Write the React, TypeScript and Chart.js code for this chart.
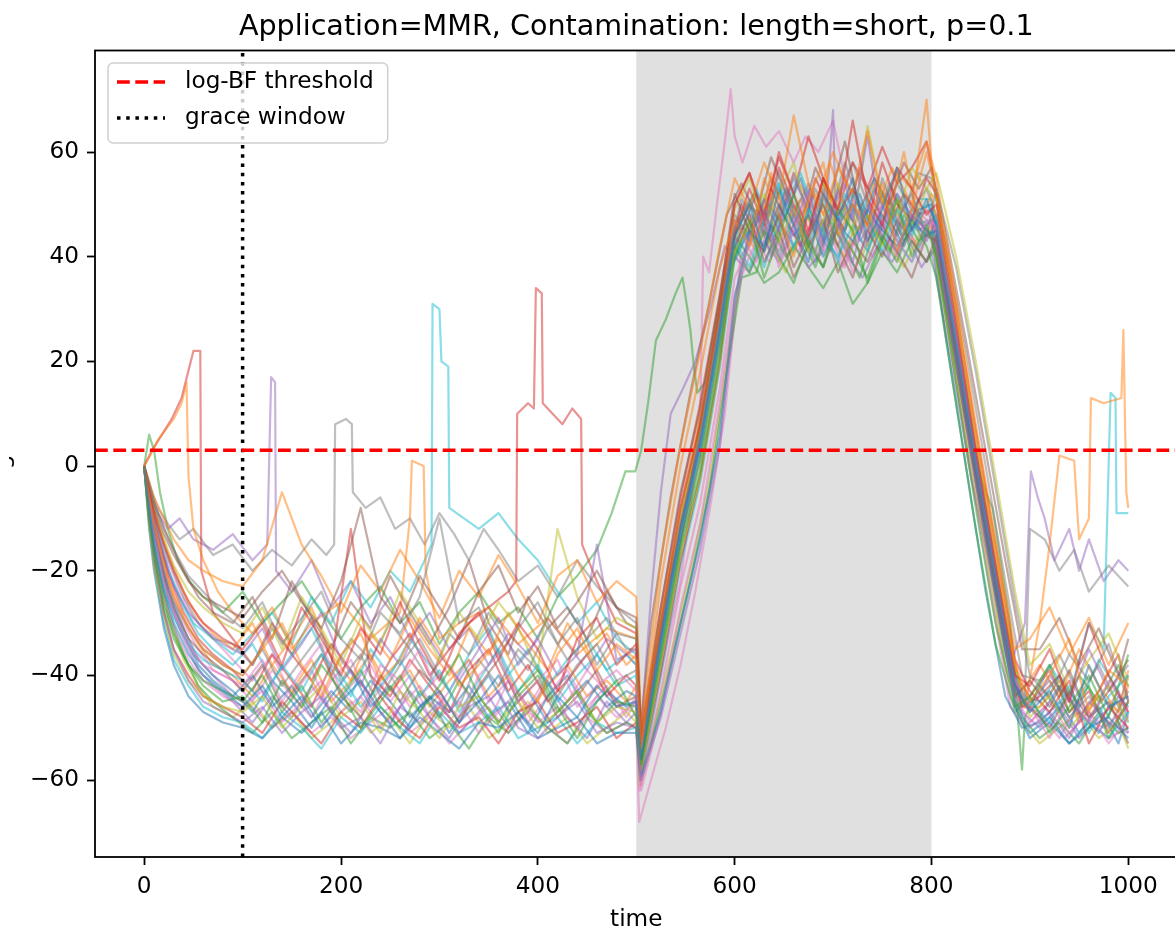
import React, { useEffect, useRef } from "react";
import { Chart, registerables } from "chart.js";

Chart.register(...registerables);

// ---------- text ----------
const TITLE = "Application=MMR, Contamination: length=short, p=0.1";
const X_LABEL = "time";
const Y_LABEL = "log-BF";
const LEGEND_THRESHOLD = "log-BF threshold";
const LEGEND_GRACE = "grace window";

// ---------- axes ----------
const X_TICKS = [0, 200, 400, 600, 800, 1000];
const Y_TICKS = [-60, -40, -20, 0, 20, 40, 60];
const X_MIN = -50;
const X_MAX = 1050;
const Y_MIN = -74.7;
const Y_MAX = 79.4;

// ---------- reference marks ----------
const THRESHOLD = 3;
const GRACE = 100;
const SPAN_START = 500;
const SPAN_END = 800;

// ---------- time grid 1 ----------
const TIME = [
  0, 5, 10, 20, 30, 45, 60, 80,
  100, 120, 140, 160, 180, 200, 220, 240, 260, 280, 300, 320, 340, 360, 380, 400, 420, 440, 460, 480,
  500, 505,
  525, 545, 565, 585,
  600, 615, 630, 645, 660, 675, 690, 705, 720, 735, 750, 765, 780, 795,
  805, 825, 845, 865, 885,
  900, 920, 940, 960, 980, 1000,
];

const RUN_A = [0, -8, -15, -24, -30, -36, -40, -43,
  -46, -42, -48, -44, -50, -45, -41, -47, -52, -46, -43, -49, -45, -40, -47, -51, -44, -48, -42, -46,
  -45, -56, -33, -12, 4, 26,
  44, 50, 41, 53, 46, 39, 52, 47, 55, 43, 49, 57, 45, 51,
  46, 24, 1, -21, -42, -47, -43, -50, -38, -46, -44];
const RUN_B = [0, -6, -11, -19, -25, -31, -35, -38,
  -40, -35, -30, -38, -44, -36, -32, -41, -37, -29, -35, -42, -38, -33, -40, -45, -36, -31, -39, -34,
  -37, -54, -22, 0, 18, 38,
  47, 42, 55, 48, 40, 51, 58, 44, 50, 46, 54, 41, 49, 60,
  52, 30, 6, -16, -38, -45, -40, -33, -47, -39, -42];
const RUN_C = [0, -10, -17, -27, -33, -38, -42, -45,
  -44, -49, -41, -46, -38, -43, -50, -45, -40, -47, -42, -36, -44, -49, -43, -39, -46, -52, -45, -41,
  -48, -57, -37, -16, -1, 21,
  40, 47, 36, 44, 52, 42, 38, 49, 45, 35, 43, 51, 40, 46,
  40, 16, -8, -30, -46, -44, -51, -46, -40, -48, -36];
const RUN_D = [0, -5, -9, -15, -20, -26, -30, -33,
  -35, -30, -38, -27, -33, -40, -31, -36, -26, -34, -41, -32, -28, -37, -30, -35, -43, -33, -29, -38,
  -34, -53, -30, -8, 8, 30,
  50, 56, 47, 60, 52, 45, 55, 49, 66, 51, 46, 57, 53, 48,
  50, 27, 3, -19, -40, -42, -35, -45, -30, -40, -47];
const RUN_E = [0, -9, -17, -28, -35, -41, -45, -47,
  -49, -46, -51, -47, -44, -50, -48, -53, -46, -49, -45, -51, -47, -43, -50, -52, -48, -45, -51, -49,
  -50, -60, -48, -32, -16, 4,
  30, 44, 49, 40, 46, 53, 43, 47, 39, 50, 44, 41, 48, 45,
  42, 20, -3, -25, -45, -50, -47, -52, -45, -49, -51];
const RUN_F = [0, -4, -8, -13, -17, -22, -25, -27,
  -29, -24, -20, -26, -31, -22, -8, -25, -30, -21, -27, -33, -24, -19, -28, -23, -31, -26, -20, -27,
  -29, -52, -27, -5, 11, 32,
  52, 45, 41, 48, 38, 44, 50, 42, 36, 45, 40, 47, 43, 39,
  44, 22, -1, -23, -44, -41, -46, -39, -48, -43, -37];
const RUN_G = [0, -7, -13, -22, -28, -34, -38, -40,
  -42, -37, -45, -39, -34, -43, -47, -38, -41, -35, -44, -48, -40, -36, -45, -41, -37, -46, -42, -39,
  -43, -61, -43, -23, -7, 15,
  36, 42, 48, 38, 45, 52, 41, 46, 37, 44, 50, 43, 39, 47,
  46, 25, 2, -20, -41, -46, -52, -44, -49, -41, -47];
const RUN_H = [0, -3, -7, -12, -16, -21, -24, -28,
  -31, -26, -34, -29, -24, -33, -37, -28, -32, -25, -10, -30, -27, -36, -31, -26, -34, -29, -38, -32,
  -33, -55, -32, -11, 5, 27,
  45, 51, 44, 56, 48, 43, 53, 46, 50, 42, 55, 47, 52, 44,
  53, 38, 18, -4, -26, -40, -44, -36, -41, -34, -45];
const RUN_I = [0, -11, -19, -29, -36, -41, -44, -46,
  -47, -44, -50, -46, -42, -48, -45, -51, -43, -47, -52, -46, -44, -49, -45, -50, -47, -43, -49, -46,
  -47, -58, -38, -17, -2, 20,
  41, 46, 52, 43, 49, 41, 47, 54, 44, 48, 42, 51, 46, 53,
  51, 29, 5, -17, -39, -48, -44, -50, -46, -42, -49];
const RUN_J = [0, -8, -14, -23, -29, -34, -37, -39,
  -41, -45, -38, -43, -36, -40, -46, -42, -37, -44, -39, -47, -41, -35, -43, -38, -45, -40, -36, -42,
  -40, -55, -34, -13, 3, 25,
  43, 38, 47, 54, 41, 49, 45, 39, 52, 47, 41, 49, 44, 50,
  47, 23, 0, -22, -43, -45, -49, -42, -51, -44, -40];
const RUN_K = [0, -12, -20, -31, -38, -44, -47, -49,
  -50, -52, -48, -51, -47, -53, -49, -50, -52, -48, -51, -54, -49, -50, -47, -52, -50, -48, -53, -51,
  -51, -59, -47, -30, -14, 6,
  32, 45, 42, 50, 44, 48, 40, 46, 43, 49, 45, 42, 47, 44,
  45, 21, -2, -24, -46, -52, -49, -53, -50, -48, -52];
const RUN_L = [0, -3, -6, -10, -14, -18, -20, -22,
  -23, -18, -5, -15, -21, -28, -19, -24, -16, -22, -29, -20, -25, -17, -23, -30, -21, -18, -26, -22,
  -25, -50, -18, 4, 22, 42,
  55, 49, 58, 51, 67, 54, 48, 57, 52, 64, 50, 56, 53, 62,
  55, 32, 8, -14, -35, -33, -27, -36, -29, -38, -30];
const RUN_M = [0, -9, -16, -26, -32, -38, -41, -43,
  -45, -40, -47, -42, -49, -44, -39, -46, -50, -43, -48, -41, -46, -51, -44, -40, -47, -43, -49, -45,
  -46, -57, -36, -15, 1, 23,
  42, 37, 45, 40, 35, 43, 38, 46, 41, 36, 44, 39, 47, 42,
  36, 12, -12, -34, -47, -44, -38, -47, -42, -52, -45];
const RUN_N = [0, -10, -18, -28, -35, -40, -44, -46,
  -48, -51, -45, -49, -53, -47, -50, -44, -49, -52, -46, -50, -48, -53, -47, -45, -51, -49, -46, -52,
  -49, -58, -39, -18, -2, 20,
  44, 53, 46, 57, 50, 44, 55, 48, 53, 46, 58, 50, 47, 55,
  52, 30, 7, -15, -37, -43, -47, -41, -53, -46, -50];
const RUN_O = [0, -5, -10, -17, -23, -28, -31, -34,
  -36, -31, -39, -34, -28, -37, -42, -33, -38, -30, -36, -41, -35, -29, -38, -33, -40, -36, -15, -37,
  -35, -54, -33, -12, 4, 26,
  47, 43, 51, 45, 56, 48, 42, 53, 47, 63, 45, 52, 48, 43,
  47, 25, 1, -21, -42, -47, -40, -45, -35, -43, -38];
const RUN_P = [0, -7, -13, -21, -27, -33, -36, -39,
  -43, -38, -46, -41, -36, -44, -48, -40, -45, -39, -43, -49, -42, -37, -45, -41, -48, -44, -39, -46,
  -44, -56, -35, -14, 2, 24,
  42, 48, 39, 45, 36, 42, 47, 37, 43, 39, 46, 41, 36, 44,
  43, 21, -2, -23, -43, -46, -50, -43, -48, -45, -53];
const RUN_Q = [0, -8, -15, -25, -31, -37, -41, -44,
  -46, -43, -49, -45, -41, -47, -44, -50, -46, -42, -48, -45, -51, -47, -43, -49, -46, -50, -44, -48,
  -45, -62, -47, -27, -11, 12,
  33, 40, 46, 42, 49, 44, 38, 46, 51, 43, 47, 40, 45, 49,
  45, 23, 0, -22, -44, -49, -45, -51, -47, -53, -48];
const RUN_R = [0, -6, -12, -20, -26, -31, -35, -38,
  -40, -35, -42, -37, -32, -41, -36, -44, -38, -33, -40, -46, -37, -42, -35, -39, -44, -38, -34, -41,
  -39, -55, -34, -13, 3, 25,
  44, 50, 45, 41, 48, 54, 46, 42, 50, 45, 52, 44, 49, 46,
  48, 26, 3, -19, -41, -45, -41, -48, -44, -50, -43];
const RUN_S = [0, -4, -8, -14, -19, -24, -27, -30,
  -32, -27, -35, -25, -31, -38, -29, -34, -24, -30, -37, -28, -33, -26, -31, -39, -12, -25, -33, -29,
  -31, -53, -30, -9, 7, 29,
  49, 55, 46, 52, 58, 47, 54, 50, 45, 65, 51, 48, 57, 53,
  56, 40, 20, -2, -24, -38, -34, -43, -37, -32, -41];
const RUN_T = [0, -11, -19, -30, -37, -42, -46, -48,
  -49, -52, -47, -50, -54, -48, -51, -46, -50, -53, -47, -51, -49, -46, -52, -50, -48, -53, -49, -51,
  -50, -59, -40, -19, -3, 19,
  40, 45, 38, 47, 42, 49, 44, 40, 46, 41, 48, 43, 39, 45,
  44, 22, -1, -23, -45, -51, -48, -53, -49, -52, -47];

// ---------- time grid 2 (interleaved sampling) ----------
const TIME2 = [
  0, 4, 12, 25, 40, 55, 70,
  90, 110, 130, 150, 170, 190, 210, 230, 250, 270, 290, 310, 330, 350, 370, 390, 410, 430, 450, 470, 490,
  500, 504,
  515, 535, 555, 575, 592,
  607, 622, 637, 652, 667, 682, 697, 712, 727, 742, 757, 772, 787,
  800, 815, 835, 855, 875, 892,
  910, 930, 950, 970, 990, 1000,
];

const RUN_U = [0, -6, -14, -24, -31, -37, -40,
  -43, -47, -41, -45, -50, -44, -39, -46, -42, -48, -44, -51, -45, -40, -47, -43, -49, -45, -41, -46, -43,
  -44, -57, -44, -22, -4, 17, 37,
  45, 52, 43, 48, 55, 46, 41, 50, 44, 53, 47, 42, 49,
  50, 34, 11, -10, -32, -45, -48, -42, -47, -51, -44, -46];
const RUN_V = [0, -4, -10, -17, -24, -29, -32,
  -35, -30, -38, -33, -27, -36, -41, -32, -37, -29, -35, -40, -31, -36, -28, -34, -39, -30, -36, -32, -38,
  -36, -53, -41, -19, -1, 19, 39,
  48, 42, 56, 47, 51, 44, 58, 49, 45, 54, 48, 60, 46,
  52, 36, 13, -8, -30, -43, -38, -44, -35, -42, -47, -39];
const RUN_W = [0, -8, -17, -28, -36, -42, -45,
  -48, -51, -47, -52, -49, -46, -53, -48, -50, -47, -52, -49, -54, -48, -51, -46, -50, -53, -47, -51, -49,
  -50, -60, -53, -38, -22, -4, 18,
  36, 37, 46, 40, 44, 38, 47, 42, 36, 45, 41, 48, 43,
  45, 30, 8, -14, -36, -48, -52, -49, -53, -47, -51, -50];
const RUN_X = [0, -5, -12, -21, -28, -33, -36,
  -39, -43, -36, -41, -46, -38, -12, -40, -44, -37, -42, -47, -39, -35, -43, -38, -45, -41, -36, -44, -40,
  -42, -56, -43, -21, -3, 18, 38,
  50, 44, 53, 47, 42, 55, 49, 45, 57, 50, 46, 52, 48,
  49, 33, 10, -12, -33, -46, -44, -40, -48, -43, -36, -45];
const RUN_Y = [0, -7, -15, -26, -33, -39, -42,
  -45, -49, -44, -48, -42, -47, -51, -45, -49, -43, -48, -52, -46, -44, -50, -47, -41, -48, -52, -45, -49,
  -47, -59, -45, -23, -5, 16, 36,
  43, 49, 40, 51, 45, 39, 48, 54, 43, 47, 40, 50, 45,
  47, 31, 9, -13, -35, -47, -50, -46, -52, -48, -45, -51];
const RUN_Z = [0, -3, -8, -14, -20, -25, -28,
  -30, -25, -33, -22, -29, -35, -26, -31, -21, -28, -34, -27, -18, -30, -36, -25, -31, -27, -33, -24, -30,
  -31, -51, -30, -6, 14, 32, 48,
  54, 48, 59, 52, 46, 57, 51, 62, 49, 55, 50, 58, 53,
  57, 44, 24, 3, -18, -35, -35, -29, -38, -31, -40, -33];
const RUN_AA = [0, -6, -13, -23, -30, -35, -39,
  -41, -45, -39, -44, -48, -41, -37, -45, -40, -46, -42, -38, -44, -49, -41, -46, -40, -45, -39, -43, -47,
  -44, -58, -44, -22, -4, 17, 37,
  44, 39, 47, 52, 42, 48, 44, 38, 46, 51, 43, 47, 41,
  47, 31, 8, -14, -35, -46, -47, -52, -45, -49, -43, -48];
const RUN_AB = [0, -4, -10, -18, -25, -30, -33,
  -34, -38, -31, -36, -29, -40, -33, -37, -30, -35, -41, -32, -36, -28, -34, -39, -31, -37, -33, -29, -35,
  -35, -54, -42, -20, -2, 19, 39,
  51, 46, 55, 49, 44, 53, 47, 58, 50, 45, 54, 49, 56,
  55, 42, 22, 0, -22, -40, -41, -36, -44, -38, -46, -40];
const RUN_AC = [0, -9, -18, -29, -37, -42, -46,
  -48, -45, -50, -47, -52, -49, -45, -51, -48, -53, -47, -50, -46, -52, -49, -45, -51, -48, -53, -50, -47,
  -49, -61, -52, -36, -20, -2, 20,
  38, 46, 42, 37, 45, 41, 48, 43, 39, 46, 42, 38, 44,
  44, 28, 6, -16, -38, -49, -53, -50, -47, -52, -49, -54];
const RUN_AD = [0, -5, -11, -20, -27, -32, -35,
  -38, -34, -41, -36, -31, -39, -44, -35, -40, -33, -38, -43, -36, -31, -40, -35, -42, -37, -33, -39, -36,
  -38, -55, -43, -21, -3, 18, 38,
  47, 53, 45, 50, 56, 48, 43, 52, 47, 55, 49, 44, 51,
  51, 35, 12, -9, -31, -44, -45, -40, -46, -37, -43, -49];
const RUN_AE = [0, -7, -15, -25, -32, -38, -41,
  -44, -40, -46, -42, -48, -43, -47, -41, -45, -50, -44, -47, -42, -48, -45, -51, -44, -40, -47, -43, -46,
  -45, -58, -45, -23, -5, 16, 36,
  42, 48, 44, 53, 46, 41, 50, 45, 52, 44, 49, 43, 47,
  44, 24, 0, -24, -44, -50, -49, -45, -51, -46, -53, -47];
const RUN_AF = [0, -6, -12, -22, -29, -34, -38,
  -40, -44, -38, -43, -37, -45, -41, -36, -43, -39, -46, -41, -37, -44, -40, -47, -42, -38, -44, -41, -45,
  -42, -56, -43, -21, -3, 18, 37,
  46, 41, 50, 44, 48, 52, 45, 40, 49, 43, 51, 46, 42,
  46, 30, 8, -13, -34, -46, -46, -41, -49, -44, -47, -42];

const GRID_RUNS: { time: number[]; values: number[] }[] = [
  ...[RUN_A, RUN_B, RUN_C, RUN_D, RUN_E, RUN_F, RUN_G, RUN_H, RUN_I, RUN_J,
    RUN_K, RUN_L, RUN_M, RUN_N, RUN_O, RUN_P, RUN_Q, RUN_R, RUN_S, RUN_T].map((values) => ({ time: TIME, values })),
  ...[RUN_U, RUN_V, RUN_W, RUN_X, RUN_Y, RUN_Z, RUN_AA, RUN_AB, RUN_AC, RUN_AD, RUN_AE, RUN_AF]
    .map((values) => ({ time: TIME2, values })),
];

// ---------- individually sampled runs: [time, value] ----------
const RUN_ORANGE_EARLY: [number, number][] = [[0,0],[6,2],[14,5],[22,7],[30,9],[38,12],[43,16],[45,-2],[50,-12],[60,-18],[75,-24],[90,-28],[110,-32],[130,-27],[150,-35],[170,-30],[200,-26],[230,-33],[260,-28],[270,-10],[272,1],[284,0],[286,-20],[300,-33],[320,-30],[350,-27],[380,-34],[410,-29],[440,-36],[470,-31],[500,-33],[505,-52],[525,-28],[545,-8],[565,10],[585,30],[600,46],[620,52],[640,45],[660,56],[680,49],[700,60],[720,51],[740,47],[760,57],[780,50],[795,70],[800,58],[820,30],[840,7],[860,-14],[880,-34],[895,-46],[910,-30],[920,-15],[930,2],[945,1],[950,-14],[960,-10],[962,13],[975,12],[993,13],[995,26],[998,-5],[1000,-8]];
const RUN_RED_SPIKE: [number, number][] = [[0,0],[8,3],[18,6],[28,9],[38,13],[46,19],[50,22],[57,22],[58,-20],[70,-28],[90,-33],[110,-38],[130,-30],[150,-36],[170,-41],[190,-34],[210,-39],[230,-44],[250,-37],[270,-32],[290,-40],[310,-35],[330,-30],[350,-27],[370,-24],[378,-22],[379,10],[390,12],[396,11],[398,34],[404,33],[405,12],[415,10],[425,8],[435,11],[444,9],[445,-15],[460,-22],[480,-30],[500,-32],[505,-50],[525,-27],[545,-6],[565,12],[585,33],[600,50],[615,56],[630,48],[645,59],[660,52],[675,63],[690,55],[705,49],[720,58],[735,53],[750,61],[765,54],[780,57],[795,62],[805,52],[825,28],[845,4],[865,-18],[885,-40],[900,-44],[920,-39],[940,-47],[960,-43],[980,-51],[1000,-45]];
const RUN_CYAN_SPIKE: [number, number][] = [[0,0],[6,-8],[14,-14],[24,-20],[36,-25],[50,-30],[70,-33],[90,-36],[110,-32],[130,-28],[150,-34],[170,-25],[190,-30],[210,-22],[230,-27],[250,-20],[270,-24],[285,-18],[292,-15],[293,31],[300,30],[302,20],[309,19],[310,-8],[325,-10],[340,-12],[360,-9],[380,-14],[400,-18],[420,-24],[440,-30],[460,-26],[480,-33],[500,-36],[505,-53],[525,-33],[545,-13],[565,5],[585,27],[600,44],[615,50],[630,46],[645,54],[660,47],[675,42],[690,51],[705,45],[720,53],[735,48],[750,43],[765,52],[780,46],[800,47],[820,26],[840,3],[860,-19],[880,-40],[900,-46],[920,-38],[940,-44],[960,-30],[975,-35],[982,14],[987,13],[988,-9],[1000,-9]];
const RUN_PURPLE_SPIKE: [number, number][] = [[0,0],[6,-5],[14,-9],[24,-12],[36,-10],[50,-14],[70,-16],[90,-13],[110,-18],[125,-15],[129,17],[133,16],[134,-20],[150,-24],[170,-18],[190,-27],[210,-22],[230,-30],[250,-25],[270,-33],[290,-28],[310,-35],[330,-31],[350,-38],[370,-32],[390,-36],[410,-29],[430,-34],[450,-39],[470,-33],[490,-36],[500,-38],[505,-50],[515,-25],[525,-5],[535,10],[548,15],[560,20],[575,30],[590,42],[600,40],[615,37],[630,43],[645,39],[660,45],[675,38],[690,41],[700,68],[703,45],[715,40],[730,36],[745,42],[760,39],[775,44],[790,38],[800,41],[820,20],[840,-2],[860,-20],[880,-38],[895,-30],[901,-1],[908,-6],[915,-10],[925,-18],[940,-12],[950,-20],[960,-14],[975,-22],[990,-18],[1000,-20]];
const RUN_GRAY_PLATEAU: [number, number][] = [[0,0],[6,-4],[14,-8],[24,-11],[36,-14],[50,-12],[70,-17],[90,-15],[110,-20],[130,-16],[150,-19],[170,-14],[185,-17],[193,-15],[194,8],[205,9],[211,8],[212,-5],[225,-8],[240,-6],[255,-12],[270,-10],[285,-15],[300,-9],[315,-13],[330,-18],[345,-12],[360,-16],[380,-22],[400,-19],[420,-25],[440,-18],[460,-23],[480,-27],[500,-30],[505,-51],[525,-30],[545,-10],[565,8],[585,30],[600,48],[615,44],[630,51],[645,47],[660,55],[675,49],[690,45],[705,52],[720,58],[735,50],[750,46],[765,54],[780,49],[795,53],[805,48],[825,25],[845,2],[865,-20],[885,-42],[895,-44],[900,-12],[915,-14],[930,-20],[945,-16],[960,-24],[980,-19],[1000,-23]];
const RUN_GREEN_EARLY: [number, number][] = [[0,0],[5,6],[10,3],[16,-5],[24,-12],[34,-18],[46,-22],[60,-25],[80,-28],[100,-24],[120,-30],[140,-26],[160,-22],[180,-28],[200,-33],[220,-27],[240,-23],[260,-30],[280,-26],[300,-34],[320,-28],[340,-24],[360,-30],[380,-27],[400,-33],[420,-25],[440,-21],[460,-16],[475,-9],[489,-1],[499,-1],[505,3],[512,12],[520,24],[530,28],[540,33],[547,36],[552,30],[555,26],[558,20],[562,14],[570,16],[580,27],[590,38],[600,44],[615,40],[630,35],[645,37],[660,42],[675,38],[690,34],[705,39],[720,31],[735,35],[750,41],[765,37],[780,43],[795,39],[805,42],[820,24],[835,9],[845,1],[855,-5],[862,-8],[870,-18],[880,-30],[892,-58],[895,-48],[910,-42],[930,-47],[950,-40],[970,-45],[990,-38],[1000,-42]];
const RUN_PINK_HIGH: [number, number][] = [[0,0],[6,-6],[14,-12],[24,-18],[36,-24],[50,-29],[70,-33],[90,-37],[110,-41],[130,-36],[150,-44],[170,-39],[190,-47],[210,-42],[230,-38],[250,-45],[270,-40],[290,-48],[310,-43],[330,-37],[350,-45],[370,-41],[390,-49],[410,-44],[430,-39],[450,-46],[470,-42],[490,-48],[500,-45],[503,-62],[515,-50],[530,-35],[545,-22],[555,-8],[565,10],[568,40],[574,37],[582,50],[590,62],[596,72],[600,63],[608,58],[620,65],[632,61],[645,64],[660,58],[672,63],[685,60],[700,66],[712,55],[725,50],[740,46],[755,52],[770,44],[785,49],[800,46],[820,24],[840,1],[860,-22],[880,-44],[895,-50],[915,-46],[935,-52],[955,-48],[975,-50],[1000,-46]];
const RUN_PINK_LATE: [number, number][] = [[0,0],[6,-9],[14,-16],[24,-25],[36,-31],[50,-36],[70,-40],[90,-44],[110,-46],[130,-50],[150,-47],[170,-51],[190,-48],[210,-52],[230,-49],[250,-46],[270,-51],[290,-48],[310,-53],[330,-49],[350,-46],[370,-51],[390,-47],[410,-50],[430,-53],[450,-48],[470,-51],[490,-49],[500,-50],[503,-68],[515,-60],[530,-50],[545,-38],[560,-24],[575,-8],[590,10],[600,28],[606,40],[620,44],[635,39],[650,45],[665,41],[680,47],[695,43],[710,38],[725,44],[740,40],[755,46],[770,42],[785,47],[800,44],[820,22],[840,-1],[860,-24],[880,-46],[900,-51],[920,-48],[940,-53],[960,-49],[980,-52],[1000,-50]];

const SAMPLED_RUNS: { points: [number, number][]; color: number }[] = [
  { points: RUN_ORANGE_EARLY, color: 1 },
  { points: RUN_RED_SPIKE, color: 3 },
  { points: RUN_CYAN_SPIKE, color: 9 },
  { points: RUN_PURPLE_SPIKE, color: 4 },
  { points: RUN_GRAY_PLATEAU, color: 7 },
  { points: RUN_GREEN_EARLY, color: 2 },
  { points: RUN_PINK_HIGH, color: 6 },
  { points: RUN_PINK_LATE, color: 6 },
];

const TAB10 = ["31,119,180", "255,127,14", "44,160,44", "214,39,40", "148,103,189",
  "140,86,75", "227,119,194", "127,127,127", "188,189,34", "23,190,207"];
const RUN_ALPHA = 0.5;

// ---------- layout (canvas px) ----------
const CANVAS_LEFT = 9;
const CANVAS_W = 1180;
const CANVAS_H = 935;
const FONT = "'DejaVu Sans'";
const TICK_SIZE = 23.2;
const TITLE_SIZE = 28.6;

function fmtTick(v: number): string {
  return v < 0 ? "\u2212" + Math.abs(v) : String(v);
}

const decorPlugin = {
  id: "decor",
  beforeDatasetsDraw(chart: any) {
    const { ctx, chartArea: a, scales } = chart;
    const x0 = scales.x.getPixelForValue(SPAN_START);
    const x1 = scales.x.getPixelForValue(SPAN_END);
    ctx.save();
    ctx.fillStyle = "#e0e0e0";
    ctx.fillRect(x0, a.top, x1 - x0, a.bottom - a.top);
    ctx.restore();
  },
  afterDraw(chart: any) {
    const { ctx, chartArea: a } = chart;
    ctx.save();
    // frame
    ctx.strokeStyle = "#000";
    ctx.lineWidth = 1.8;
    ctx.strokeRect(a.left, a.top, a.right - a.left, a.bottom - a.top);
    // title
    ctx.fillStyle = "#000";
    ctx.font = `${TITLE_SIZE}px ${FONT}`;
    ctx.textAlign = "center";
    ctx.textBaseline = "alphabetic";
    ctx.fillText(TITLE, (a.left + a.right) / 2, 35);
    // y label: only its lower edge lies inside the visible frame
    ctx.save();
    ctx.translate(0, (a.top + a.bottom) / 2);
    ctx.rotate(-Math.PI / 2);
    ctx.font = `${TICK_SIZE}px ${FONT}`;
    ctx.textAlign = "center";
    ctx.textBaseline = "alphabetic";
    ctx.fillText(Y_LABEL, 0, 0);
    ctx.restore();
    // legend
    ctx.font = `${TICK_SIZE}px ${FONT}`;
    const textX = 176;
    const w = Math.max(ctx.measureText(LEGEND_THRESHOLD).width, ctx.measureText(LEGEND_GRACE).width);
    const bx = 99, by = 63, bw = textX + w + 14 - bx, bh = 80, r = 5;
    ctx.beginPath();
    ctx.moveTo(bx + r, by);
    ctx.arcTo(bx + bw, by, bx + bw, by + bh, r);
    ctx.arcTo(bx + bw, by + bh, bx, by + bh, r);
    ctx.arcTo(bx, by + bh, bx, by, r);
    ctx.arcTo(bx, by, bx + bw, by, r);
    ctx.closePath();
    ctx.fillStyle = "rgba(255,255,255,0.8)";
    ctx.fill();
    ctx.strokeStyle = "#d0d0d0";
    ctx.lineWidth = 1.5;
    ctx.stroke();
    const rows = [
      { y: 82, label: LEGEND_THRESHOLD, color: "#ff0000", dash: [12.8, 5.5] },
      { y: 118, label: LEGEND_GRACE, color: "#000000", dash: [3.5, 5.7] },
    ];
    rows.forEach((row) => {
      ctx.beginPath();
      ctx.setLineDash(row.dash);
      ctx.strokeStyle = row.color;
      ctx.lineWidth = 3.5;
      ctx.moveTo(108, row.y);
      ctx.lineTo(156, row.y);
      ctx.stroke();
      ctx.setLineDash([]);
      ctx.fillStyle = "#000";
      ctx.textAlign = "left";
      ctx.textBaseline = "middle";
      ctx.fillText(row.label, textX, row.y);
    });
    ctx.restore();
  },
};

export default function App() {
  const ref = useRef<HTMLCanvasElement | null>(null);

  useEffect(() => {
    if (!ref.current) return;
    const runSets: any[] = [];
    GRID_RUNS.forEach((run, i) => {
      runSets.push({
        data: run.values.map((v, k) => ({ x: run.time[k], y: v })),
        borderColor: `rgba(${TAB10[i % 10]},${RUN_ALPHA})`,
      });
    });
    SAMPLED_RUNS.forEach((run) => {
      runSets.push({
        data: run.points.map(([t, v]) => ({ x: t, y: v })),
        borderColor: `rgba(${TAB10[run.color]},${RUN_ALPHA})`,
      });
    });
    const datasets: any[] = [
      {
        data: [{ x: X_MIN, y: THRESHOLD }, { x: X_MAX, y: THRESHOLD }],
        borderColor: "#ff0000",
        borderWidth: 3.5,
        borderDash: [12.8, 5.5],
        order: -2,
      },
      {
        data: [{ x: GRACE, y: Y_MIN }, { x: GRACE, y: Y_MAX }],
        borderColor: "#000000",
        borderWidth: 3.5,
        borderDash: [3.5, 5.7],
        order: -1,
      },
      ...runSets.map((d) => ({ ...d, borderWidth: 2.2, borderJoinStyle: "round", order: 0 })),
    ].map((d) => ({ ...d, pointRadius: 0, fill: false, tension: 0, clip: 0 }));

    const tickFont = { family: FONT, size: TICK_SIZE };
    const gridCfg = {
      display: true,
      drawOnChartArea: false,
      drawTicks: true,
      tickLength: 8,
      tickWidth: 1.8,
      tickColor: "#000",
    };

    const chart = new Chart(ref.current, {
      type: "line",
      data: { datasets },
      options: {
        animation: false,
        responsive: false,
        devicePixelRatio: 1,
        events: [],
        layout: { padding: { top: 50.5, left: 0, bottom: 0, right: CANVAS_W - 1168.5 } },
        plugins: {
          legend: { display: false },
          title: { display: false },
          tooltip: { enabled: false },
        },
        scales: {
          x: {
            type: "linear",
            min: X_MIN,
            max: X_MAX,
            afterBuildTicks: (s: any) => {
              s.ticks = X_TICKS.map((v) => ({ value: v }));
            },
            afterFit: (s: any) => {
              s.height = 78;
            },
            grid: gridCfg,
            border: { display: false },
            ticks: {
              font: tickFont,
              color: "#000",
              padding: 8,
              maxRotation: 0,
              autoSkip: false,
              callback: (v: any) => fmtTick(Number(v)),
            },
            title: {
              display: true,
              text: X_LABEL,
              font: tickFont,
              color: "#000",
              padding: { top: 0, bottom: 1 },
            },
          },
          y: {
            type: "linear",
            min: Y_MIN,
            max: Y_MAX,
            afterBuildTicks: (s: any) => {
              s.ticks = Y_TICKS.map((v) => ({ value: v }));
            },
            afterFit: (s: any) => {
              s.width = 86;
            },
            grid: gridCfg,
            border: { display: false },
            ticks: {
              font: tickFont,
              color: "#000",
              padding: 8,
              autoSkip: false,
              callback: (v: any) => fmtTick(Number(v)),
            },
          },
        },
      },
      plugins: [decorPlugin],
    });
    return () => chart.destroy();
  }, []);

  return (
    <div
      style={{
        position: "fixed",
        left: 0,
        top: 0,
        width: 1175,
        height: 935,
        overflow: "hidden",
        background: "#fff",
      }}
    >
      <canvas
        ref={ref}
        width={CANVAS_W}
        height={CANVAS_H}
        style={{ position: "absolute", left: CANVAS_LEFT, top: 0, width: CANVAS_W, height: CANVAS_H }}
      />
    </div>
  );
}
